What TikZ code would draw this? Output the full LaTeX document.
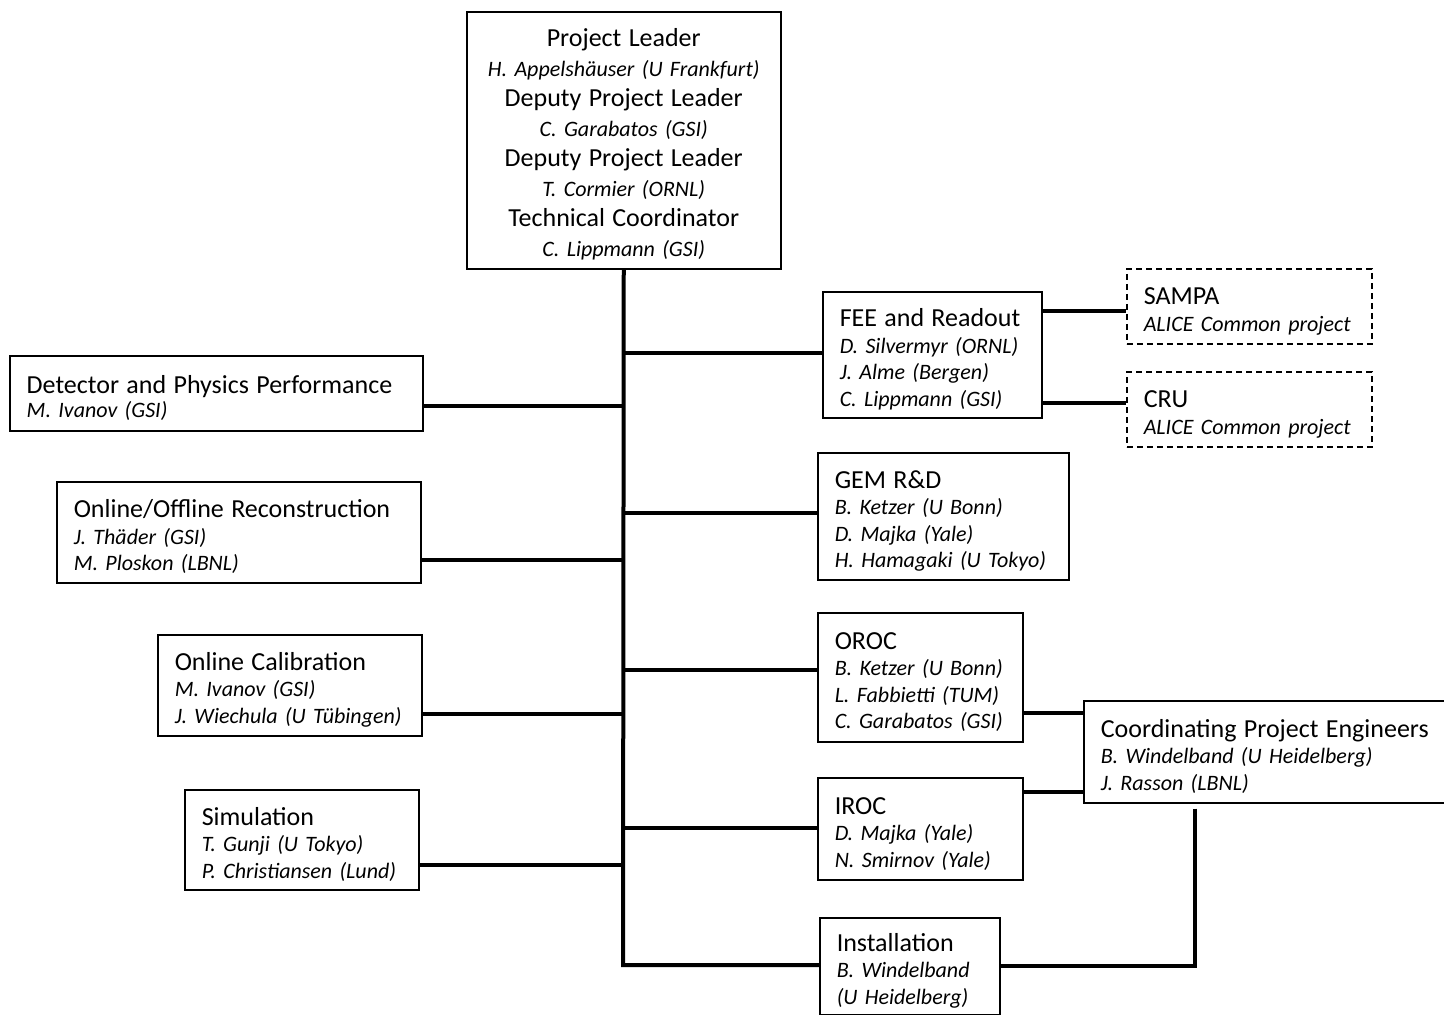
\documentclass[tikz,border=0pt]{standalone}
\usepackage{fontspec}
\setmainfont{Carlito}
\newcommand\hd[1]{\mbox{\fontsize{26}{26.5}\selectfont #1}}
\newcommand\nm[1]{\mbox{\fontsize{22}{26.5}\selectfont\itshape #1}}
\begin{document}
\begin{tikzpicture}[x=1pt,y=-1pt,
  box/.style={draw, line width=1.5pt, inner xsep=17pt, inner ysep=0pt, align=left,
    anchor=north west, font=\fontsize{22}{26.5}\selectfont,
    execute at begin node={\rule{0pt}{27pt}}},
  dbox/.style={box, dash pattern=on 6pt off 4pt},
  conn/.style={line width=4pt}]
\useasboundingbox (0,0) rectangle (1444,1015);
\fill[white] (0,0) rectangle (1444,1015);

% top box
\node[box, align=center, text width=280pt, minimum height=257pt, font=\fontsize{22}{30}\selectfont] (top) at (466,11)
  {\hd{Project Leader}\\ \nm{H. Appelsh\"auser (U Frankfurt)}\\
   \hd{Deputy Project Leader}\\ \nm{C. Garabatos (GSI)}\\
   \hd{Deputy Project Leader}\\ \nm{T. Cormier (ORNL)}\\
   \hd{Technical Coordinator}\\ \nm{C. Lippmann (GSI)}};

% right column
\node[box, text width=185pt, minimum height=126pt] (fee) at (822,291)
  {\hd{FEE and Readout}\\ \nm{D. Silvermyr (ORNL)}\\ \nm{J. Alme (Bergen)}\\ \nm{C. Lippmann (GSI)}};
\node[dbox, text width=211pt, minimum height=75pt] (sampa) at (1126,268)
  {\hd{SAMPA}\\ \nm{ALICE Common project}};
\node[dbox, text width=211pt, minimum height=75pt] (cru) at (1126,371)
  {\hd{CRU}\\ \nm{ALICE Common project}};
\node[box, text width=217pt, minimum height=127pt] (gem) at (817,452)
  {\hd{GEM R\&D}\\ \nm{B. Ketzer (U Bonn)}\\ \nm{D. Majka (Yale)}\\ \nm{H. Hamagaki (U Tokyo)}};
\node[box, text width=171pt, minimum height=129pt] (oroc) at (817,612)
  {\hd{OROC}\\ \nm{B. Ketzer (U Bonn)}\\ \nm{L. Fabbietti (TUM)}\\ \nm{C. Garabatos (GSI)}};
\node[box, text width=171pt, minimum height=102pt] (iroc) at (817,777)
  {\hd{IROC}\\ \nm{D. Majka (Yale)}\\ \nm{N. Smirnov (Yale)}};
\node[box, text width=146pt, minimum height=97pt] (inst) at (819,917)
  {\hd{Installation}\\ \nm{B. Windelband}\\ \nm{(U Heidelberg)}};
\node[box, text width=343pt, minimum height=102pt] (coord) at (1083,700)
  {\hd{Coordinating Project Engineers}\\ \nm{B. Windelband (U Heidelberg)}\\ \nm{J. Rasson (LBNL)}};

% left column
\node[box, text width=379pt, minimum height=75pt, font=\fontsize{22}{24}\selectfont] (det) at (9,355)
  {\hd{Detector and Physics Performance}\\ \nm{M. Ivanov (GSI)}};
\node[box, text width=330pt, minimum height=101pt] (onoff) at (56,481)
  {\hd{Online/Offline Reconstruction}\\ \nm{J. Th\"ader (GSI)}\\ \nm{M. Ploskon (LBNL)}};
\node[box, text width=230pt, minimum height=101pt] (calib) at (157,634)
  {\hd{Online Calibration}\\ \nm{M. Ivanov (GSI)}\\ \nm{J. Wiechula (U T\"ubingen)}};
\node[box, text width=200pt, minimum height=100pt] (sim) at (184,789)
  {\hd{Simulation}\\ \nm{T. Gunji (U Tokyo)}\\ \nm{P. Christiansen (Lund)}};

% trunk
\coordinate (jBot) at (623,965);
\draw[conn] (top.south) -- (jBot) -- (inst.west |- jBot);

% branches from trunk
\coordinate (jFee) at (623,353);
\coordinate (jDet) at (623,406);
\coordinate (jGem) at (623,513);
\coordinate (jOnoff) at (623,560);
\coordinate (jOroc) at (623,670);
\coordinate (jCalib) at (623,714);
\coordinate (jIroc) at (623,828);
\coordinate (jSim) at (623,865);
\draw[conn] (jFee) -- (fee.west |- jFee);
\draw[conn] (jDet) -- (det.east |- jDet);
\draw[conn] (jGem) -- (gem.west |- jGem);
\draw[conn] (jOnoff) -- (onoff.east |- jOnoff);
\draw[conn] (jOroc) -- (oroc.west |- jOroc);
\draw[conn] (jCalib) -- (calib.east |- jCalib);
\draw[conn] (jIroc) -- (iroc.west |- jIroc);
\draw[conn] (jSim) -- (sim.east |- jSim);

% FEE to common projects
\coordinate (cSampa) at (1080,311);
\coordinate (cCru) at (1080,403);
\draw[conn] (fee.east |- cSampa) -- (sampa.west |- cSampa);
\draw[conn] (fee.east |- cCru) -- (cru.west |- cCru);

% chambers to coordinating engineers
\coordinate (cOroc) at (1050,713);
\coordinate (cIroc) at (1050,792);
\draw[conn] (oroc.east |- cOroc) -- (coord.west |- cOroc);
\draw[conn] (iroc.east |- cIroc) -- (coord.west |- cIroc);
\coordinate (cV) at (1195,966);
\draw[conn] ([yshift=-5pt]coord.south -| cV) -- (cV) -- (inst.east |- cV);
\end{tikzpicture}
\end{document}
